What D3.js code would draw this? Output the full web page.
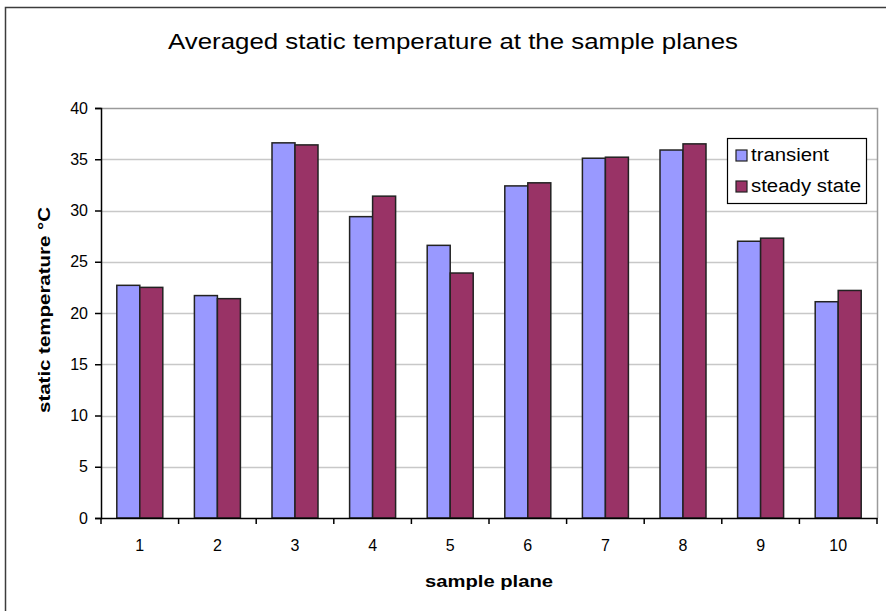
<!DOCTYPE html>
<html>
<head>
<meta charset="utf-8">
<script src="https://cdn.jsdelivr.net/npm/d3@7/dist/d3.min.js"></script>
<style>
  html, body { margin: 0; padding: 0; background: #fff; }
  svg { display: block; font-family: "Liberation Sans", Arial, sans-serif; }
</style>
</head>
<body>
<svg id="chart" width="886" height="611"></svg>
<script>
// Sample planes along the domain and averaged static temperature (°C)
const categories = ["1", "2", "3", "4", "5", "6", "7", "8", "9", "10"];
const transient = [22.7, 21.7, 36.6, 29.4, 26.6, 32.4, 35.1, 35.9, 27.0, 21.1];
const steadyState = [22.5, 21.4, 36.4, 31.4, 23.9, 32.7, 35.2, 36.5, 27.3, 22.2];
const seriesNames = ["transient", "steady state"];
const seriesColors = ["#9999ff", "#993366"];
const yTicks = [0, 5, 10, 15, 20, 25, 30, 35, 40];

const svg = d3.select("#chart");

// Chart frame
svg.append("rect")
  .attr("x", 5.5).attr("y", 7.5)
  .attr("width", 890).attr("height", 620)
  .attr("fill", "#fff").attr("stroke", "#3c3c3c").attr("stroke-width", 1.5);

const plot = { left: 101, right: 877, top: 108, bottom: 518 };

const x = d3.scaleBand().domain(categories).range([plot.left, plot.right]).padding(0);
const y = d3.scaleLinear().domain([0, 40]).range([plot.bottom, plot.top]);

// Horizontal gridlines
svg.append("g")
  .selectAll("line")
  .data(yTicks.filter(d => d > 0 && d < 40))
  .join("line")
  .attr("x1", plot.left).attr("x2", plot.right)
  .attr("y1", d => Math.round(y(d)) + 0.5).attr("y2", d => Math.round(y(d)) + 0.5)
  .attr("stroke", "#c8c8c8").attr("stroke-width", 1.5);

// Plot area border (top and right)
svg.append("path")
  .attr("d", `M${plot.left},${plot.top + 0.5}H${plot.right + 0.5}V${plot.bottom}`)
  .attr("fill", "none").attr("stroke", "#9a9a9a").attr("stroke-width", 1.5);

// Grouped bars
const barW = 23;
const groupOffset = (x.bandwidth() - 2 * barW) / 2;
const seriesData = [transient, steadyState];

seriesData.forEach((vals, si) => {
  svg.append("g")
    .selectAll("rect")
    .data(vals)
    .join("rect")
    .attr("x", (d, i) => x(categories[i]) + groupOffset + si * barW)
    .attr("y", d => y(d))
    .attr("width", barW)
    .attr("height", d => y(0) - y(d))
    .attr("fill", seriesColors[si])
    .attr("stroke", "#222").attr("stroke-width", 1.5);
});

// Y axis
const yAxis = svg.append("g")
  .attr("transform", `translate(${plot.left},0)`)
  .call(d3.axisLeft(y).tickValues(yTicks).tickSize(6).tickPadding(7).tickFormat(d3.format("d")));
yAxis.select(".domain").attr("stroke", "#000").attr("stroke-width", 1.5);
yAxis.selectAll(".tick line").attr("stroke", "#000").attr("stroke-width", 1.5);
yAxis.selectAll("text").attr("font-size", 16).attr("fill", "#000")
  .attr("font-family", "'Liberation Sans', Arial, sans-serif");

// X axis with ticks at category boundaries
const xAxis = svg.append("g")
  .attr("transform", `translate(0,${plot.bottom})`)
  .call(d3.axisBottom(x).tickSize(0).tickPadding(22));
xAxis.select(".domain").attr("stroke", "#000").attr("stroke-width", 1.5);
xAxis.selectAll("text").attr("font-size", 16).attr("fill", "#000")
  .attr("font-family", "'Liberation Sans', Arial, sans-serif");
xAxis.append("g")
  .selectAll("line")
  .data(categories.concat([null]))
  .join("line")
  .attr("x1", (d, i) => plot.left + i * x.bandwidth())
  .attr("x2", (d, i) => plot.left + i * x.bandwidth())
  .attr("y1", 0).attr("y2", 6)
  .attr("stroke", "#000").attr("stroke-width", 1.5);

// Title
svg.append("text")
  .attr("x", 453).attr("y", 49)
  .attr("text-anchor", "middle")
  .attr("font-size", 22)
  .attr("textLength", 570).attr("lengthAdjust", "spacingAndGlyphs")
  .attr("fill", "#000")
  .text("Averaged static temperature at the sample planes");

// Axis titles
svg.append("text")
  .attr("x", 489).attr("y", 587)
  .attr("text-anchor", "middle")
  .attr("font-size", 17).attr("font-weight", "bold")
  .attr("textLength", 128).attr("lengthAdjust", "spacingAndGlyphs")
  .text("sample plane");

svg.append("text")
  .attr("transform", "translate(50,310) rotate(-90)")
  .attr("text-anchor", "middle")
  .attr("font-size", 17).attr("font-weight", "bold")
  .attr("textLength", 206).attr("lengthAdjust", "spacingAndGlyphs")
  .text("static temperature °C");

// Legend
const legend = svg.append("g");
legend.append("rect")
  .attr("x", 727.5).attr("y", 138.5)
  .attr("width", 139).attr("height", 65)
  .attr("fill", "#fff").attr("stroke", "#000").attr("stroke-width", 1.2);
const legendText = [78, 110];
seriesNames.forEach((name, i) => {
  const cy = 155 + i * 31;
  legend.append("rect")
    .attr("x", 736).attr("y", cy - 5)
    .attr("width", 11).attr("height", 11)
    .attr("fill", seriesColors[i]).attr("stroke", "#222").attr("stroke-width", 1.2);
  legend.append("text")
    .attr("x", 751).attr("y", cy + 6)
    .attr("font-size", 18)
    .attr("textLength", legendText[i]).attr("lengthAdjust", "spacingAndGlyphs")
    .text(name);
});
</script>
</body>
</html>
